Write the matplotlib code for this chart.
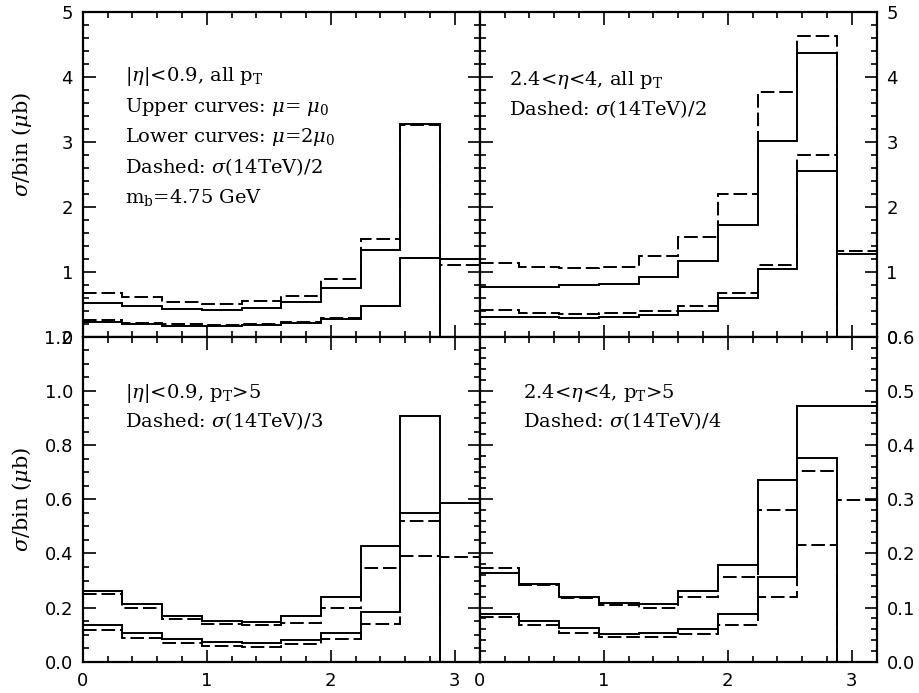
import numpy as np
import matplotlib
matplotlib.use("Agg")
import matplotlib.pyplot as plt
from matplotlib.ticker import MultipleLocator

plt.rcParams['font.family'] = ['DejaVu Serif']
plt.rcParams['mathtext.fontset'] = 'dejavuserif'

# delta-phi bins, width 0.32
edges = np.linspace(0, 3.2, 11)

# |eta|<0.9, all pT
tl_up_solid = [0.52, 0.47, 0.43, 0.41, 0.44, 0.54, 0.75, 1.33, 3.28, 0]
tl_up_dash = [0.68, 0.61, 0.53, 0.51, 0.55, 0.63, 0.89, 1.50, 3.26, 0]
tl_lo_solid = [0.22, 0.19, 0.17, 0.17, 0.18, 0.21, 0.28, 0.47, 1.21, 1.20]
tl_lo_dash = [0.26, 0.21, 0.19, 0.18, 0.19, 0.22, 0.29, 0.48, 1.21, 1.10]

# 2.4<eta<4, all pT
tr_up_solid = [0.76, 0.77, 0.79, 0.81, 0.92, 1.17, 1.72, 3.01, 4.36, 0]
tr_up_dash = [1.14, 1.08, 1.06, 1.08, 1.25, 1.54, 2.20, 3.77, 4.62, 0]
tr_lo_solid = [0.31, 0.30, 0.29, 0.30, 0.33, 0.40, 0.60, 1.04, 2.55, 1.28]
tr_lo_dash = [0.41, 0.37, 0.35, 0.36, 0.39, 0.48, 0.68, 1.11, 2.79, 1.32]

# |eta|<0.9, pT>5
bl_up_solid = [0.262, 0.215, 0.169, 0.151, 0.148, 0.168, 0.240, 0.427, 0.907, 0]
bl_up_dash = [0.249, 0.200, 0.159, 0.138, 0.136, 0.144, 0.198, 0.348, 0.521, 0]
bl_lo_solid = [0.135, 0.107, 0.085, 0.074, 0.070, 0.079, 0.105, 0.185, 0.549, 0.588]
bl_lo_dash = [0.116, 0.089, 0.070, 0.058, 0.056, 0.064, 0.083, 0.138, 0.391, 0.388]

# 2.4<eta<4, pT>5
br_up_solid = [0.164, 0.143, 0.119, 0.108, 0.106, 0.130, 0.178, 0.335, 0.473, 0.472]
br_lo_solid = [0.088, 0.075, 0.062, 0.052, 0.054, 0.061, 0.089, 0.157, 0.377, 0]
br_up_dash = [0.174, 0.142, 0.117, 0.104, 0.100, 0.119, 0.156, 0.281, 0.353, 0.299]
br_lo_dash = [0.083, 0.068, 0.054, 0.046, 0.046, 0.051, 0.068, 0.120, 0.215, 0]

tl_text = [r'$|\eta|$<0.9, all p$_\mathrm{T}$', r'Upper curves: $\mu$= $\mu_0$',
           r'Lower curves: $\mu$=2$\mu_0$', r'Dashed: $\sigma$(14TeV)/2', r'm$_\mathrm{b}$=4.75 GeV']
tr_text = [r'2.4<$\eta$<4, all p$_\mathrm{T}$', r'Dashed: $\sigma$(14TeV)/2']
bl_text = [r'$|\eta|$<0.9, p$_\mathrm{T}$>5', r'Dashed: $\sigma$(14TeV)/3']
br_text = [r'2.4<$\eta$<4, p$_\mathrm{T}$>5', r'Dashed: $\sigma$(14TeV)/4']

fig, axs = plt.subplots(2, 2, figsize=(9.19, 6.93), dpi=100)
fig.subplots_adjust(left=0.09, right=0.954, top=0.983, bottom=0.045, wspace=0, hspace=0)

dash = (0, (7, 2.5))
panels = [
    (axs[0, 0], [tl_up_solid, tl_lo_solid], [tl_up_dash, tl_lo_dash], 5, 1, 0.2, tl_text, 0.107, 0.801, 0.093),
    (axs[0, 1], [tr_up_solid, tr_lo_solid], [tr_up_dash, tr_lo_dash], 5, 1, 0.2, tr_text, 0.073, 0.789, 0.087),
    (axs[1, 0], [bl_up_solid, bl_lo_solid], [bl_up_dash, bl_lo_dash], 1.2, 0.2, 0.05, bl_text, 0.107, 0.826, 0.086),
    (axs[1, 1], [br_up_solid, br_lo_solid], [br_up_dash, br_lo_dash], 0.6, 0.1, 0.02, br_text, 0.11, 0.826, 0.086),
]

for ax, solids, dashes, ymax, ymaj, ymin, texts, tx, ty, dy in panels:
    for v in solids:
        ax.stairs(v, edges, baseline=None, color='k', lw=1.4)
    for v in dashes:
        ax.stairs(v, edges, baseline=None, color='k', lw=1.4, linestyle=dash)
    ax.set_xlim(0, 3.2)
    ax.set_ylim(0, ymax)
    ax.xaxis.set_major_locator(MultipleLocator(1))
    ax.xaxis.set_minor_locator(MultipleLocator(0.2))
    ax.yaxis.set_major_locator(MultipleLocator(ymaj))
    ax.yaxis.set_minor_locator(MultipleLocator(ymin))
    ax.tick_params(which='both', direction='in', top=True, bottom=True, left=True, right=True,
                   width=1.2, labelsize=13)
    ax.tick_params(which='major', length=9, pad=7)
    ax.tick_params(which='minor', length=4.5)
    for s in ax.spines.values():
        s.set_linewidth(1.6)
    for i, t in enumerate(texts):
        ax.text(tx, ty - i * dy, t, transform=ax.transAxes, fontsize=14, va='center', ha='left')

for ax in axs[0]:
    ax.tick_params(labelbottom=False)
for ax in axs[:, 1]:
    ax.tick_params(labelleft=False, labelright=True)
for ax in axs.flat:
    for lab in ax.get_xticklabels() + ax.get_yticklabels():
        lab.set_family('DejaVu Sans')

fig.text(22 / 919, 1 - 145 / 693, r'$\sigma$/bin ($\mu$b)', rotation=90, ha='center', va='center', fontsize=15)
fig.text(22 / 919, 1 - 500 / 693, r'$\sigma$/bin ($\mu$b)', rotation=90, ha='center', va='center', fontsize=15)

plt.savefig('out.png', dpi=100)
